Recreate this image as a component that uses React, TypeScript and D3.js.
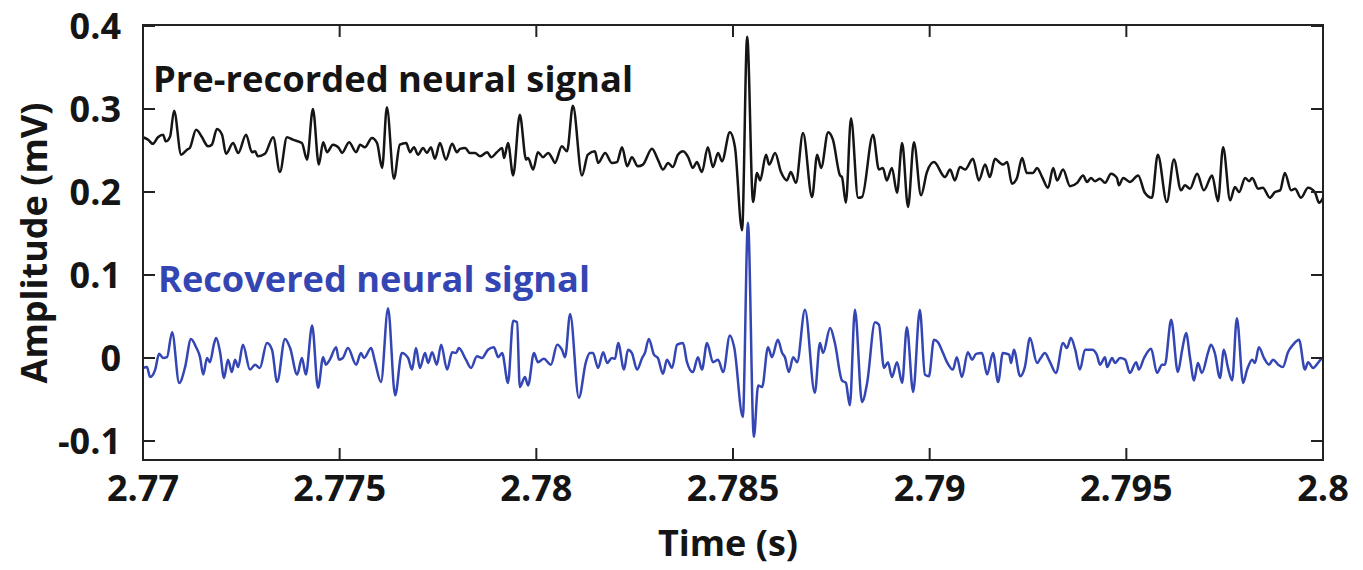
import React, { useEffect, useRef } from "react";
import * as d3 from "d3";

// Time (s) and amplitude (mV) of the pre-recorded trace
const preTime = [
  2.77, 2.77013, 2.77025, 2.77038, 2.77051, 2.77058, 2.77069, 2.77079, 2.77097, 2.77112,
  2.77119, 2.77135, 2.7715, 2.77158, 2.77165, 2.77175, 2.77188, 2.77201, 2.77211, 2.77229,
  2.77242, 2.77262, 2.77277, 2.77285, 2.77292, 2.7731, 2.77331, 2.77348, 2.77366, 2.77381,
  2.77404, 2.77417, 2.77432, 2.77447, 2.77458, 2.77468, 2.77483, 2.77498, 2.77506, 2.77524,
  2.77542, 2.77552, 2.77564, 2.77582, 2.77595, 2.77608, 2.7762, 2.77638, 2.77653, 2.77669,
  2.77679, 2.77689, 2.77699, 2.77712, 2.77722, 2.77732, 2.77742, 2.77755, 2.7777, 2.77786,
  2.77798, 2.77806, 2.77819, 2.77831, 2.77844, 2.77857, 2.77875, 2.77885, 2.779, 2.77913,
  2.77918, 2.77928, 2.77941, 2.77958, 2.77974, 2.77979, 2.77992, 2.78004, 2.78017, 2.7803,
  2.7804, 2.78047, 2.78065, 2.78078, 2.78093, 2.78116, 2.78131, 2.78149, 2.78157, 2.78175,
  2.78192, 2.78205, 2.78218, 2.78231, 2.78243, 2.78258, 2.78271, 2.78294, 2.78309, 2.78322,
  2.78335, 2.78347, 2.7836, 2.78373, 2.78386, 2.78398, 2.78408, 2.78421, 2.78436, 2.78449,
  2.78462, 2.78472, 2.78492, 2.78505, 2.78523, 2.78536, 2.78551, 2.78561, 2.78569, 2.78584,
  2.78592, 2.78607, 2.78622, 2.78637, 2.78647, 2.7866, 2.78678, 2.78701, 2.78714, 2.78724,
  2.78742, 2.78754, 2.78772, 2.78777, 2.78787, 2.788, 2.78818, 2.78828, 2.78856, 2.78871,
  2.78881, 2.78891, 2.78904, 2.78917, 2.7893, 2.78945, 2.7896, 2.78978, 2.78993, 2.79011,
  2.79039, 2.79052, 2.79064, 2.79077, 2.7909, 2.7911, 2.79125, 2.79141, 2.79153, 2.79166,
  2.79179, 2.79186, 2.79197, 2.79209, 2.79222, 2.79235, 2.79247, 2.79263, 2.79273, 2.79286,
  2.79301, 2.79314, 2.79324, 2.79339, 2.79357, 2.79375, 2.7939, 2.794, 2.7941, 2.7942,
  2.79433, 2.79446, 2.79461, 2.79476, 2.79481, 2.79492, 2.79509, 2.7953, 2.79547, 2.79565,
  2.7958, 2.79603, 2.79621, 2.79639, 2.79649, 2.79662, 2.7968, 2.79697, 2.79718, 2.79733,
  2.79746, 2.79764, 2.79776, 2.79787, 2.79802, 2.79812, 2.7982, 2.79835, 2.79847, 2.79865,
  2.79878, 2.79891, 2.79903, 2.79919, 2.79929, 2.79944, 2.79962, 2.7998, 2.7999, 2.8,
];
const preAmp = [
  0.266, 0.263, 0.258, 0.266, 0.269, 0.261, 0.267, 0.298, 0.245, 0.251,
  0.253, 0.275, 0.266, 0.259, 0.255, 0.257, 0.276, 0.269, 0.246, 0.259,
  0.247, 0.269, 0.248, 0.249, 0.243, 0.246, 0.266, 0.224, 0.266, 0.263,
  0.259, 0.239, 0.3, 0.233, 0.26, 0.248, 0.257, 0.253, 0.247, 0.26,
  0.248, 0.257, 0.254, 0.265, 0.259, 0.229, 0.302, 0.216, 0.257, 0.259,
  0.248, 0.254, 0.245, 0.253, 0.247, 0.254, 0.24, 0.259, 0.239, 0.258,
  0.248, 0.252, 0.253, 0.247, 0.247, 0.243, 0.248, 0.242, 0.248, 0.253,
  0.241, 0.259, 0.22, 0.293, 0.239, 0.241, 0.227, 0.248, 0.242, 0.247,
  0.241, 0.235, 0.255, 0.249, 0.304, 0.22, 0.245, 0.249, 0.235, 0.247,
  0.235, 0.236, 0.254, 0.231, 0.242, 0.231, 0.233, 0.252, 0.239, 0.227,
  0.235, 0.23, 0.245, 0.249, 0.242, 0.229, 0.236, 0.224, 0.254, 0.23,
  0.247, 0.237, 0.272, 0.254, 0.154, 0.387, 0.188, 0.223, 0.214, 0.245,
  0.233, 0.247, 0.224, 0.214, 0.224, 0.211, 0.271, 0.194, 0.245, 0.229,
  0.272, 0.263, 0.22, 0.218, 0.187, 0.289, 0.193, 0.194, 0.269, 0.227,
  0.229, 0.214, 0.229, 0.199, 0.259, 0.182, 0.26, 0.196, 0.224, 0.236,
  0.218, 0.227, 0.214, 0.23, 0.227, 0.24, 0.214, 0.233, 0.218, 0.24,
  0.235, 0.233, 0.236, 0.21, 0.217, 0.241, 0.223, 0.223, 0.229, 0.218,
  0.205, 0.229, 0.214, 0.227, 0.207, 0.211, 0.22, 0.212, 0.217, 0.213,
  0.216, 0.211, 0.222, 0.217, 0.208, 0.217, 0.212, 0.22, 0.199, 0.193,
  0.245, 0.188, 0.239, 0.202, 0.208, 0.204, 0.222, 0.202, 0.22, 0.189,
  0.254, 0.19, 0.206, 0.2, 0.217, 0.213, 0.217, 0.204, 0.205, 0.193,
  0.2, 0.202, 0.223, 0.202, 0.204, 0.193, 0.205, 0.199, 0.187, 0.193,
];

// Time (s) and amplitude (mV) of the recovered trace
const recTime = [
  2.77, 2.7701, 2.77018, 2.77031, 2.77041, 2.77051, 2.77061, 2.77074, 2.77092, 2.77107,
  2.77122, 2.77135, 2.77145, 2.77153, 2.77163, 2.7717, 2.77181, 2.77186, 2.77196, 2.77206,
  2.77216, 2.77226, 2.77234, 2.77242, 2.77254, 2.77272, 2.77285, 2.77297, 2.77315, 2.77328,
  2.77341, 2.77361, 2.77374, 2.77392, 2.77404, 2.77414, 2.7743, 2.77445, 2.77458, 2.77465,
  2.77475, 2.77491, 2.77498, 2.77508, 2.77521, 2.77542, 2.77554, 2.77562, 2.7758, 2.7759,
  2.77605, 2.77623, 2.77641, 2.77658, 2.77674, 2.77684, 2.77694, 2.77704, 2.77717, 2.77725,
  2.77735, 2.77747, 2.77758, 2.77773, 2.77786, 2.77796, 2.77803, 2.77821, 2.77834, 2.77849,
  2.77862, 2.77877, 2.77892, 2.77903, 2.77913, 2.77928, 2.77941, 2.77951, 2.77958, 2.77971,
  2.77979, 2.77994, 2.78004, 2.78019, 2.78037, 2.78053, 2.78065, 2.78073, 2.78086, 2.78108,
  2.78126, 2.78136, 2.78144, 2.78157, 2.7817, 2.7818, 2.78192, 2.782, 2.78208, 2.78223,
  2.78233, 2.78243, 2.78256, 2.78269, 2.78276, 2.78286, 2.78299, 2.78309, 2.78322, 2.78332,
  2.78345, 2.78358, 2.78373, 2.78383, 2.78398, 2.78411, 2.78421, 2.78434, 2.78449, 2.78462,
  2.78475, 2.78492, 2.78503, 2.78525, 2.78538, 2.78553, 2.78564, 2.78574, 2.78589, 2.78599,
  2.78614, 2.78625, 2.78632, 2.78642, 2.78653, 2.78663, 2.78683, 2.78708, 2.78721, 2.78729,
  2.78747, 2.78759, 2.78777, 2.78787, 2.78797, 2.7881, 2.78828, 2.78841, 2.78861, 2.78871,
  2.78884, 2.78894, 2.78904, 2.78917, 2.7893, 2.78942, 2.78958, 2.78975, 2.78988, 2.78998,
  2.79011, 2.79021, 2.79034, 2.79044, 2.79059, 2.79069, 2.79082, 2.79097, 2.79108, 2.79118,
  2.79133, 2.79146, 2.79161, 2.79174, 2.79186, 2.79202, 2.79207, 2.79214, 2.7923, 2.79242,
  2.79255, 2.79273, 2.79281, 2.79293, 2.79306, 2.79321, 2.79339, 2.79349, 2.79359, 2.7937,
  2.79382, 2.79395, 2.79413, 2.79425, 2.79433, 2.79446, 2.79451, 2.79464, 2.79471, 2.79484,
  2.79497, 2.79509, 2.79525, 2.79532, 2.79545, 2.79563, 2.79578, 2.79591, 2.79598, 2.79614,
  2.79631, 2.79642, 2.79652, 2.79662, 2.79672, 2.79682, 2.79692, 2.79708, 2.79715, 2.79725,
  2.79738, 2.79748, 2.79758, 2.79769, 2.79781, 2.79797, 2.79807, 2.7982, 2.79827, 2.79837,
  2.7985, 2.79863, 2.79873, 2.79886, 2.79898, 2.79911, 2.79924, 2.79939, 2.79954, 2.79962,
  2.79975, 2.79987, 2.79997,
];
const recAmp = [
  -0.012, -0.011, -0.023, -0.014, 0.005, 0.0, 0.001, 0.031, -0.03, -0.011,
  0.023, 0.013, 0.001, -0.02, 0.0, -0.005, 0.018, 0.024, 0.007, -0.024,
  -0.002, -0.017, -0.002, -0.011, 0.016, -0.014, -0.008, -0.012, 0.018, 0.01,
  -0.029, 0.023, 0.012, -0.02, 0.0, -0.02, 0.039, -0.036, 0.001, -0.008,
  -0.002, 0.013, -0.002, 0.0, 0.012, -0.008, 0.006, 0.0, 0.012, -0.005,
  -0.029, 0.06, -0.045, 0.006, 0.0, -0.014, 0.012, -0.012, 0.006, -0.006,
  0.007, -0.008, 0.016, -0.014, 0.007, 0.006, 0.012, -0.002, -0.012, 0.002,
  0.0, 0.01, 0.013, 0.001, 0.006, -0.03, 0.045, 0.043, -0.035, -0.023,
  -0.033, 0.006, -0.005, -0.001, -0.008, 0.016, 0.01, 0.001, 0.053, -0.048,
  -0.005, 0.006, 0.006, -0.012, 0.007, -0.006, 0.0, -0.001, 0.018, -0.014,
  0.01, 0.006, -0.014, 0.0, 0.006, 0.023, 0.004, 0.0, -0.019, -0.002,
  -0.012, 0.016, 0.018, -0.005, -0.017, 0.001, -0.014, 0.018, -0.005, -0.002,
  -0.017, 0.027, 0.013, -0.071, 0.163, -0.095, -0.033, -0.035, 0.013, 0.001,
  0.022, 0.006, 0.001, -0.017, 0.001, -0.005, 0.058, -0.042, 0.018, 0.006,
  0.036, 0.018, -0.027, -0.03, -0.057, 0.058, -0.053, -0.03, 0.043, 0.04,
  -0.012, -0.005, -0.023, -0.005, -0.03, 0.037, -0.041, 0.058, -0.02, -0.022,
  0.022, 0.019, 0.006, -0.005, -0.014, 0.001, -0.023, 0.007, -0.002, 0.005,
  0.006, -0.02, 0.006, -0.029, 0.006, 0.004, -0.006, 0.01, -0.022, -0.011,
  0.024, -0.006, -0.001, 0.006, -0.005, -0.018, 0.018, 0.012, 0.024, 0.01,
  -0.014, 0.01, 0.01, 0.004, -0.008, 0.001, -0.011, 0.0, -0.006, 0.0,
  -0.002, -0.018, -0.005, -0.014, 0.0, 0.011, -0.018, -0.008, -0.008, 0.046,
  -0.017, 0.01, 0.03, 0.0, -0.027, -0.006, -0.018, 0.007, 0.016, 0.006,
  -0.024, 0.01, -0.011, -0.027, 0.048, -0.03, -0.014, -0.002, -0.006, 0.013,
  0.0, -0.008, -0.002, -0.008, -0.011, 0.007, 0.016, 0.022, -0.014, -0.005,
  -0.012, -0.006, 0.0,
];

const xTicks = [2.77, 2.775, 2.78, 2.785, 2.79, 2.795, 2.8];
const xTickLabels = ["2.77", "2.775", "2.78", "2.785", "2.79", "2.795", "2.8"];
const yTicks = [-0.1, 0, 0.1, 0.2, 0.3, 0.4];
const yTickLabels = ["-0.1", "0", "0.1", "0.2", "0.3", "0.4"];

const W = 1363;
const H = 570;
const plot = { left: 143, right: 1323, top: 25, bottom: 460 };
const FONT = "'Open Sans', 'DejaVu Sans', sans-serif";
const BLUE = "#3446b4";
const INK = "#151515";

export default function App() {
  const ref = useRef<SVGSVGElement>(null);

  useEffect(() => {
    const svg = d3.select(ref.current);
    svg.selectAll("*").remove();

    const x = d3.scaleLinear().domain([2.77, 2.8]).range([plot.left, plot.right]);
    const y = d3.scaleLinear().domain([-0.1229, 0.4012]).range([plot.bottom, plot.top]);

    const pre = preTime.map((t, i) => [t, preAmp[i]] as [number, number]);
    const rec = recTime.map((t, i) => [t, recAmp[i]] as [number, number]);

    const line = d3
      .line<[number, number]>()
      .x((d) => x(d[0]))
      .y((d) => y(d[1]))
      .curve(d3.curveMonotoneX);

    svg.append("path").datum(rec).attr("d", line).attr("fill", "none")
      .attr("stroke", BLUE).attr("stroke-width", 2.5).attr("stroke-linejoin", "round");
    svg.append("path").datum(pre).attr("d", line).attr("fill", "none")
      .attr("stroke", INK).attr("stroke-width", 2.5).attr("stroke-linejoin", "round");

    // Box frame with inward ticks on all four sides
    const tickLen = 12;
    const axisG = svg.append("g").attr("stroke", "#222").attr("stroke-width", 2);
    axisG.append("rect")
      .attr("x", plot.left).attr("y", plot.top)
      .attr("width", plot.right - plot.left).attr("height", plot.bottom - plot.top)
      .attr("fill", "none");
    xTicks.forEach((t) => {
      axisG.append("line").attr("x1", x(t)).attr("x2", x(t))
        .attr("y1", plot.bottom).attr("y2", plot.bottom - tickLen);
      axisG.append("line").attr("x1", x(t)).attr("x2", x(t))
        .attr("y1", plot.top).attr("y2", plot.top + tickLen);
    });
    yTicks.forEach((v) => {
      axisG.append("line").attr("x1", plot.left).attr("x2", plot.left + tickLen)
        .attr("y1", y(v)).attr("y2", y(v));
      axisG.append("line").attr("x1", plot.right).attr("x2", plot.right - tickLen)
        .attr("y1", y(v)).attr("y2", y(v));
    });

    const txt = svg.append("g").attr("font-family", FONT).attr("font-weight", 700).attr("fill", INK);
    xTicks.forEach((t, i) => {
      txt.append("text").attr("x", x(t)).attr("y", 501).attr("text-anchor", "middle")
        .attr("font-size", 36).text(xTickLabels[i]);
    });
    yTicks.forEach((v, i) => {
      txt.append("text").attr("x", 121).attr("y", y(v) + 13).attr("text-anchor", "end")
        .attr("font-size", 36).text(yTickLabels[i]);
    });
    txt.append("text").attr("x", 728).attr("y", 556).attr("text-anchor", "middle")
      .attr("font-size", 36).text("Time (s)");
    txt.append("text")
      .attr("transform", `translate(47,243) rotate(-90)`)
      .attr("text-anchor", "middle").attr("font-size", 36).text("Amplitude (mV)");

    txt.append("text").attr("x", 153).attr("y", 92).attr("font-size", 36)
      .attr("textLength", 480).attr("lengthAdjust", "spacingAndGlyphs")
      .text("Pre-recorded neural signal");
    txt.append("text").attr("x", 158).attr("y", 292).attr("font-size", 36)
      .attr("fill", BLUE).attr("textLength", 432).attr("lengthAdjust", "spacingAndGlyphs")
      .text("Recovered neural signal");
  }, []);

  return (
    <svg
      ref={ref}
      width={W}
      height={H}
      style={{ position: "absolute", left: 0, top: 0, background: "#fff" }}
    />
  );
}
